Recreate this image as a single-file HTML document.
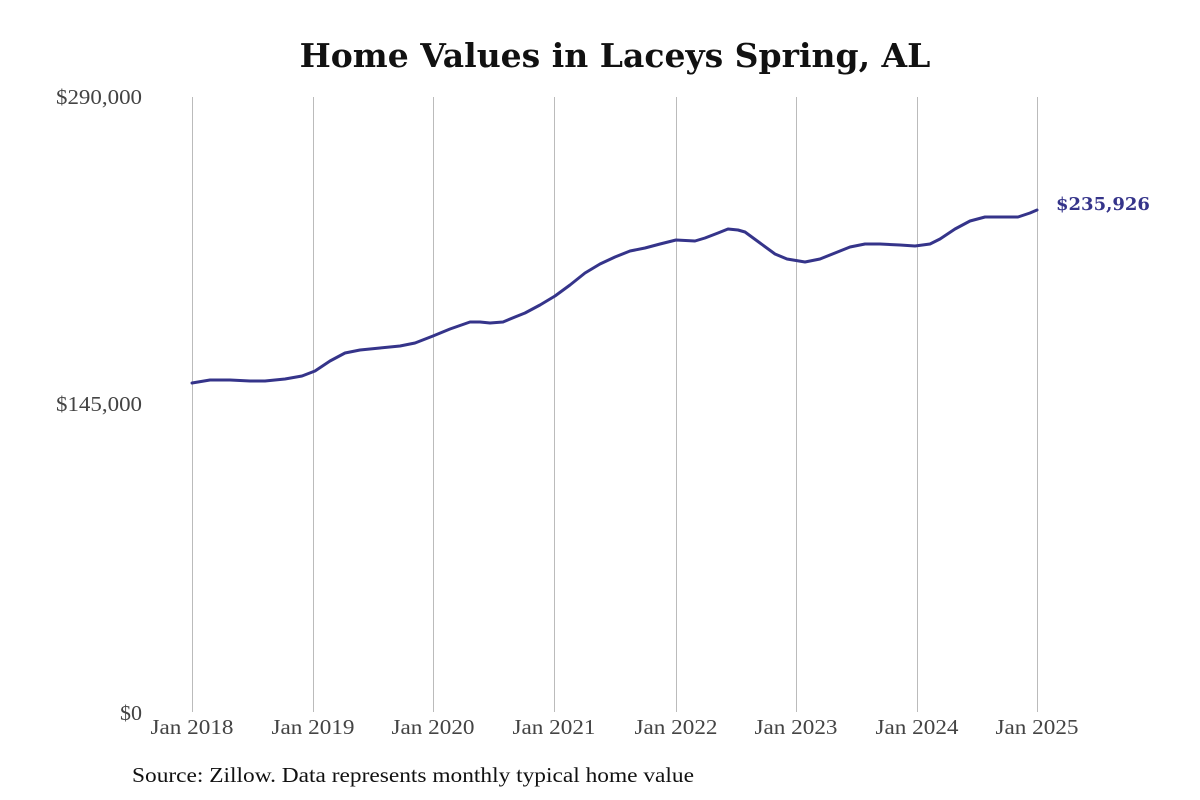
<!DOCTYPE html>
<html><head><meta charset="utf-8"><style>
html,body{margin:0;padding:0;background:#fff;width:1200px;height:800px;overflow:hidden}
svg text{font-family:"Liberation Serif","DejaVu Serif",serif}
svg text.dj{font-family:"DejaVu Serif",serif}
</style></head><body>
<svg width="1200" height="800" viewBox="0 0 1200 800">
<text class="dj" x="615" y="67" text-anchor="middle" font-size="33" font-weight="bold" fill="#111">Home Values in Laceys Spring, AL</text>
<g stroke="#bbb" stroke-width="1">
<line x1="192.5" y1="97" x2="192.5" y2="712"/>
<line x1="313.5" y1="97" x2="313.5" y2="712"/>
<line x1="433.5" y1="97" x2="433.5" y2="712"/>
<line x1="554.5" y1="97" x2="554.5" y2="712"/>
<line x1="676.5" y1="97" x2="676.5" y2="712"/>
<line x1="796.5" y1="97" x2="796.5" y2="712"/>
<line x1="917.5" y1="97" x2="917.5" y2="712"/>
<line x1="1037.5" y1="97" x2="1037.5" y2="712"/>
</g>
<g font-size="21" fill="#444" text-anchor="end">
<text x="142" y="104" textLength="86" lengthAdjust="spacingAndGlyphs">$290,000</text>
<text x="142" y="411" textLength="86" lengthAdjust="spacingAndGlyphs">$145,000</text>
<text x="142" y="720" textLength="22" lengthAdjust="spacingAndGlyphs">$0</text>
</g>
<g font-size="21" fill="#444" text-anchor="middle">
<text x="192" y="734" textLength="83" lengthAdjust="spacingAndGlyphs">Jan 2018</text>
<text x="313" y="734" textLength="83" lengthAdjust="spacingAndGlyphs">Jan 2019</text>
<text x="433" y="734" textLength="83" lengthAdjust="spacingAndGlyphs">Jan 2020</text>
<text x="554" y="734" textLength="83" lengthAdjust="spacingAndGlyphs">Jan 2021</text>
<text x="676" y="734" textLength="83" lengthAdjust="spacingAndGlyphs">Jan 2022</text>
<text x="796" y="734" textLength="83" lengthAdjust="spacingAndGlyphs">Jan 2023</text>
<text x="917" y="734" textLength="83" lengthAdjust="spacingAndGlyphs">Jan 2024</text>
<text x="1037" y="734" textLength="83" lengthAdjust="spacingAndGlyphs">Jan 2025</text>
</g>
<polyline fill="none" stroke="#35348a" stroke-width="3" stroke-linejoin="round" stroke-linecap="round"
points="192,383 210,380 230,380 250,381 265,381 285,379 302,376 315,371 330,361 345,353 360,350 380,348 400,346 415,343 433,336 450,329 470,322 480,322 490,323 503,322 515,317 525,313 540,305 555,296 570,285 585,273 600,264 615,257 630,251 645,248 660,244 676,240 695,241 705,238 718,233 728,229 738,230 745,232 760,243 775,254 787,259 805,262 820,259 835,253 850,247 865,244 880,244 900,245 915,246 930,244 940,239 955,229 970,221 985,217 1000,217 1018,217 1030,213 1037,210"/>
<text class="dj" x="1056" y="210" font-size="18" font-weight="bold" fill="#35348a">$235,926</text>
<text x="132" y="782" font-size="21" fill="#111" textLength="562" lengthAdjust="spacingAndGlyphs">Source: Zillow. Data represents monthly typical home value</text>
</svg>
</body></html>
